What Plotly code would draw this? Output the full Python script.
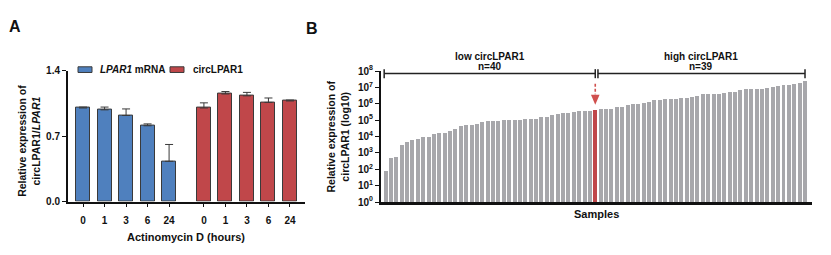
import plotly.graph_objects as go

# ---------------- data ----------------
# Panel A
time_labels = ["0", "1", "3", "6", "24"]
lpar1_mrna = [1.00, 0.98, 0.92, 0.81, 0.43]
lpar1_mrna_err = [0.01, 0.03, 0.07, 0.02, 0.18]
circ_lpar1 = [1.00, 1.15, 1.13, 1.06, 1.075]
circ_lpar1_err = [0.055, 0.026, 0.037, 0.047, 0.01]

# Panel B (log10 of relative expression, sorted samples)
low_log10 = [1.87, 2.68, 2.72, 3.50, 3.67, 3.77, 3.86, 3.94, 3.94, 4.15,
             4.21, 4.21, 4.33, 4.46, 4.64, 4.70, 4.71, 4.77, 4.88, 4.97,
             4.97, 4.97, 5.02, 5.02, 5.02, 5.02, 5.08, 5.08, 5.08, 5.18,
             5.18, 5.31, 5.39, 5.41, 5.41, 5.47, 5.53, 5.57, 5.58, 5.64]
high_log10 = [5.68, 5.68, 5.70, 5.78, 5.82, 5.93, 6.01, 6.01, 6.03, 6.13,
              6.20, 6.24, 6.26, 6.26, 6.28, 6.36, 6.36, 6.40, 6.47, 6.57,
              6.57, 6.57, 6.59, 6.63, 6.69, 6.74, 6.82, 6.90, 6.90, 6.90,
              6.92, 6.98, 7.05, 7.11, 7.13, 7.17, 7.21, 7.27, 7.36]
y_decades = list(range(0, 9))

# ---------------- layout helpers ----------------
W, H = 831, 255
def xp(px):
    return px / W
def yp(py):
    return 1 - py / H

FONT = "Liberation Sans, Arial, sans-serif"
BLUE = "#4f80be"
RED = "#c0474a"
GRAY = "#a7a7ab"
EDGE = "#3a3a3a"

fig = go.Figure()

# ---------------- Panel A ----------------
n = len(time_labels)
group_gap = 1.62
pos_blue = [i for i in range(n)]
pos_red = [n - 1 + group_gap + i for i in range(n)]

fig.add_trace(go.Bar(
    x=pos_blue, y=lpar1_mrna, width=0.65,
    marker=dict(color=BLUE, line=dict(color=EDGE, width=1)),
    error_y=dict(type="data", array=lpar1_mrna_err, arrayminus=[0] * n,
                 symmetric=False, color=EDGE, thickness=1, width=4),
    xaxis="x", yaxis="y", showlegend=False, name="LPAR1 mRNA"))
fig.add_trace(go.Bar(
    x=pos_red, y=circ_lpar1, width=0.65,
    marker=dict(color=RED, line=dict(color=EDGE, width=1)),
    error_y=dict(type="data", array=circ_lpar1_err, arrayminus=[0] * n,
                 symmetric=False, color=EDGE, thickness=1, width=4),
    xaxis="x", yaxis="y", showlegend=False, name="circLPAR1"))

# ---------------- Panel B ----------------
all_log = low_log10 + high_log10
n_low, n_high = len(low_log10), len(high_log10)
n_tot = n_low + n_high
cutoff = n_low - 1
sample_idx = list(range(n_tot))
sample_vals = [10 ** v for v in all_log]
colors = [RED if i == cutoff else GRAY for i in sample_idx]

fig.add_trace(go.Bar(
    x=sample_idx, y=sample_vals, width=0.74,
    marker=dict(color=colors, line=dict(width=0)),
    xaxis="x2", yaxis="y2", showlegend=False, name="samples"))

tick_font = dict(family=FONT, size=10, color="#111", weight="bold")

fig.update_layout(
    width=W, height=H,
    margin=dict(l=0, r=0, t=0, b=0),
    paper_bgcolor="white", plot_bgcolor="white",
    bargap=0,
    xaxis=dict(domain=[xp(68), xp(305)], range=[-0.7, pos_red[-1] + 0.7],
               anchor="y",
               tickvals=pos_blue + pos_red, ticktext=time_labels + time_labels,
               ticks="outside", ticklen=3, tickwidth=1.2, tickcolor="#111",
               ticklabelstandoff=5,
               showline=True, linewidth=2, linecolor="#111",
               showgrid=False, zeroline=False, tickfont=tick_font),
    yaxis=dict(domain=[yp(205), yp(67)], range=[0, 1.4], anchor="x",
               tickvals=[0, 0.7, 1.4], ticktext=["0.0", "0.7", "1.4"],
               ticks="outside", ticklen=4, tickwidth=1.2, tickcolor="#111",
               showline=True, linewidth=2, linecolor="#111",
               showgrid=False, zeroline=False, tickfont=tick_font),
    xaxis2=dict(domain=[xp(381), xp(812)], range=[-0.84, n_tot + 0.3],
                anchor="y2",
                showticklabels=False, ticks="",
                showline=True, linewidth=2.5, linecolor="#111",
                showgrid=False, zeroline=False),
    yaxis2=dict(domain=[yp(205.5), yp(67.5)], type="log", range=[0, 8],
                anchor="x2",
                tickvals=[10 ** k for k in y_decades],
                ticktext=["10<sup>%d</sup>" % k for k in y_decades],
                ticks="outside", ticklen=4, tickwidth=1.2, tickcolor="#111",
                showline=True, linewidth=2, linecolor="#111",
                showgrid=False, zeroline=False, tickfont=tick_font),
)

def txt(x, y, s, size=10, angle=0, xanchor="center"):
    fig.add_annotation(x=xp(x), y=yp(y), xref="paper", yref="paper",
                       text=s, showarrow=False, textangle=angle,
                       xanchor=xanchor, yanchor="middle",
                       font=dict(family=FONT, size=size, color="#111", weight="bold"))

# panel letters
txt(15, 21, "A", size=16)
txt(312, 23, "B", size=16)

# panel A titles
txt(29, 141, "Relative expression of<br>circLPAR1/<i>LPAR1</i>", size=10.5, angle=-90)
txt(186, 242, "Actinomycin D (hours)", size=11)

# panel A legend (manual)
fig.add_shape(type="rect", xref="paper", yref="paper",
              x0=xp(78), x1=xp(92), y0=yp(69), y1=yp(63),
              fillcolor=BLUE, line=dict(color=EDGE, width=1))
txt(98, 66, "<i>LPAR1</i> mRNA", size=10, xanchor="left")
fig.add_shape(type="rect", xref="paper", yref="paper",
              x0=xp(170), x1=xp(184), y0=yp(69), y1=yp(63),
              fillcolor=RED, line=dict(color=EDGE, width=1))
txt(191, 66, "circLPAR1", size=10, xanchor="left")

# panel B titles
txt(338.5, 137, "Relative expression of<br>circLPAR1 (log10)", size=10.5, angle=-90)
txt(596, 218, "Samples", size=11)

# brackets
by = yp(70)
bt0, bt1 = yp(65.5), yp(75)
def bracket(a, b):
    fig.add_shape(type="line", xref="x2", yref="paper", x0=a, x1=b, y0=by, y1=by,
                  line=dict(color="#222", width=1.5))
    for xx in (a, b):
        fig.add_shape(type="line", xref="x2", yref="paper", x0=xx, x1=xx, y0=bt0, y1=bt1,
                      line=dict(color="#222", width=1.5))

low_a, low_b = -0.25, cutoff
high_a, high_b = cutoff + 0.5, n_tot - 1
bracket(low_a, low_b)
bracket(high_a, high_b)

# group labels
for a, b, lab, cnt in [(low_a, low_b, "low circLPAR1", n_low),
                       (high_a, high_b, "high circLPAR1", n_high)]:
    fig.add_annotation(x=(a + b) / 2, y=yp(52), xref="x2", yref="paper",
                       text=lab, showarrow=False, yanchor="middle",
                       font=dict(family=FONT, size=10, color="#111", weight="bold"))
    fig.add_annotation(x=(a + b) / 2, y=yp(63), xref="x2", yref="paper",
                       text="n=%d" % cnt, showarrow=False, yanchor="middle",
                       font=dict(family=FONT, size=10, color="#111", weight="bold"))

# red arrow pointing at cutoff sample
fig.add_shape(type="line", xref="x2", yref="paper", x0=cutoff, x1=cutoff,
              y0=yp(81), y1=yp(92), line=dict(color="#d0504e", width=1.6, dash="3px,2px"))
fig.add_shape(type="path", xref="x2", yref="paper",
              path="M %f,%f L %f,%f L %f,%f Z" % (cutoff - 0.8, yp(92.5), cutoff + 0.8, yp(92.5),
                                                    cutoff, yp(103)),
              fillcolor="#d0504e", line=dict(width=0))

fig.write_html("out.html")
